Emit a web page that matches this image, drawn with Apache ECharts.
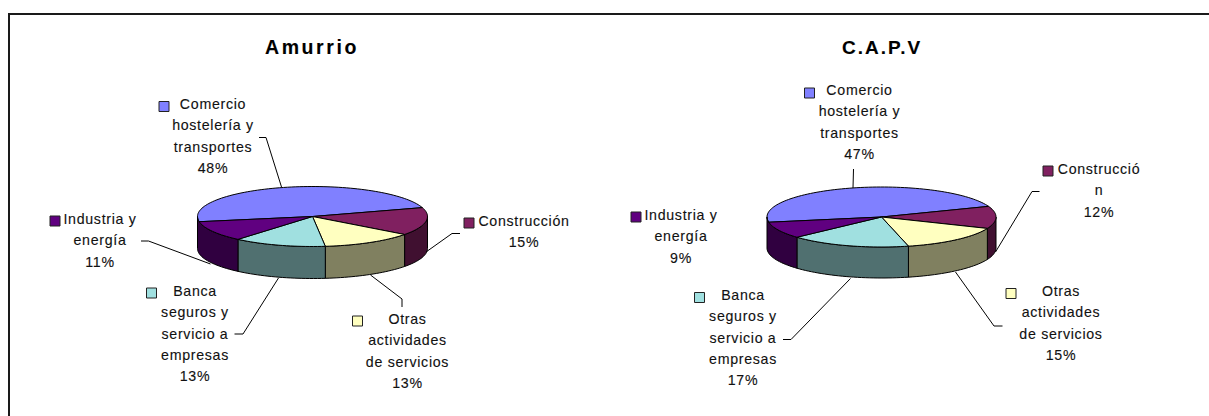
<!DOCTYPE html>
<html><head><meta charset="utf-8">
<style>
html,body{margin:0;padding:0;background:#fff}
#c{width:1209px;height:416px}
svg text{letter-spacing:.7px;stroke:#111;stroke-width:.12px}
svg text[style*="19.5px"]{letter-spacing:2.6px}
svg text[style*="19px"]{letter-spacing:2px}
</style>
<script src="https://cdn.jsdelivr.net/npm/echarts@6/dist/echarts.min.js"></script>
</head><body><div id="c"></div>
<script>
// Data
const titles = ['Amurrio', 'C.A.P.V'];
const categoryLinesAmurrio = [['Comercio','hostelería y','transportes'],['Construcción'],['Otras','actividades','de servicios'],['Banca','seguros y','servicio a','empresas'],['Industria y','energía']];
const categoryLinesCapv = [['Comercio','hostelería y','transportes'],['Construcció','n'],['Otras','actividades','de servicios'],['Banca','seguros y','servicio a','empresas'],['Industria y','energía']];
const valuesAmurrio = [48, 15, 13, 13, 11];
const valuesCapv = [47, 12, 15, 17, 9];
const topColors = ['#8080FF','#802060','#FFFFC0','#A0E0E0','#600080'];
const wallColors = ['#404080','#401030','#808060','#507070','#300040'];

// Layout
const pieA = {cx:312.5, cy:216.5, rx:115, ry:30, depth:32, start:260};
const pieB = {cx:881.5, cy:217, rx:114.5, ry:30, depth:31, start:260};
const labelPosA = [[213,104],[524,221],[407.5,319],[195,291],[100,219]];
const labelPosB = [[859.5,90],[1099,169],[1061,291],[743,295],[681,215]];
const markerPosA = [[164,106.5],[469,223],[357.5,321],[151.5,293],[55,221]];
const markerPosB = [[809.5,93],[1048,171],[1011,293.5],[699.5,297.5],[636,217]];
const leadersA = [[[259,137.5],[266,137.5],[281.5,187]],[[460,233.5],[452,233.5],[426,252]],[[402,307],[402,299],[370.5,275]],[[234.5,334],[243,334],[278.5,278]],[[141,241],[148.5,241],[210.5,264]]];
const leadersB = [[[853.5,169],[853,188]],[[1039.5,191.5],[1032,191.5],[995.5,252]],[[1002.5,326],[994,326],[955.5,272]],[[783,339.5],[791,339.5],[850.5,278.5]],[]];

const FONT = '"Liberation Sans", Arial, sans-serif';

function pt(p, deg, dy){
  const t = deg*Math.PI/180;
  return [p.cx + p.rx*Math.sin(t), p.cy - p.ry*Math.cos(t) + (dy||0)];
}
function arc(p, a, b, dy){
  const out=[], n=Math.max(2,Math.ceil(Math.abs(b-a)/2));
  for(let i=0;i<=n;i++) out.push(pt(p, a+(b-a)*i/n, dy));
  return out;
}
function makeSeries(pie, values, lines, labelPos, markerPos, leaders){
  const total = values.reduce((s,v)=>s+v,0);
  const starts=[]; let acc=pie.start;
  values.forEach(v=>{starts.push(acc); acc+=v/total*360;});
  return {
    type:'custom', coordinateSystem:'none', silent:true, animation:false, clip:false,
    data: values.map((v,i)=>[v,i]),
    renderItem(params, api){
      const i = api.value(1), v = api.value(0);
      const a = starts[i], b = a + v/total*360;
      const kids = [];
      // visible wall: the front half of the disc (90..270 degrees, modulo a turn)
      let wa = a, wb = b;
      if (a < 360 && b > 360) { wa = wb = 0; }
      else { wa = ((a-1)%360)+1; wb = wa + (b-a); }
      if (i === values.length-1) wb = 270;
      wa = Math.max(wa,90); wb = Math.min(wb,270);
      if (wb > wa) {
        kids.push({type:'polygon', shape:{points: arc(pie,wa,wb,0).concat(arc(pie,wb,wa,pie.depth))},
          style:{fill:wallColors[i], stroke:'#000', lineWidth:1, lineJoin:'round'}});
      }
      kids.push({type:'polygon', shape:{points: [[pie.cx,pie.cy]].concat(arc(pie,a,b,0))},
        style:{fill:topColors[i], stroke:'#000', lineWidth:1, lineJoin:'round'}});
      if (leaders[i].length) kids.push({type:'polyline', shape:{points:leaders[i]},
        style:{fill:'none', stroke:'#000', lineWidth:1}});
      const m = markerPos[i];
      kids.push({type:'rect', shape:{x:m[0]-5,y:m[1]-5,width:10,height:10},
        style:{fill:topColors[i], stroke:'#222', lineWidth:1}});
      const l = labelPos[i];
      kids.push({type:'text', x:l[0], y:l[1]-10.5,
        style:{text: lines[i].concat([v+'%']).join('\n'), fill:'#111', fontSize:14.2, fontFamily:FONT,
          align:'center', verticalAlign:'top', lineHeight:21.3}});
      return {type:'group', children:kids};
    }
  };
}
const chart = echarts.init(document.getElementById('c'), null, {renderer:'svg'});
chart.setOption({
  animation:false,
  backgroundColor:'#fff',
  title:[
    {text:titles[0], left:307, top:32, textAlign:'center', textStyle:{fontSize:19.5, fontWeight:'bold', color:'#000', fontFamily:FONT}},
    {text:titles[1], left:877, top:32.5, textAlign:'center', textStyle:{fontSize:19, fontWeight:'bold', color:'#000', fontFamily:FONT}}
  ],
  graphic:[
    {type:'rect', shape:{x:8,y:13,width:1201,height:2}, style:{fill:'#1a1a1a'}},
    {type:'rect', shape:{x:8,y:13,width:2,height:403}, style:{fill:'#1a1a1a'}}
  ],
  series:[
    makeSeries(pieA, valuesAmurrio, categoryLinesAmurrio, labelPosA, markerPosA, leadersA),
    makeSeries(pieB, valuesCapv, categoryLinesCapv, labelPosB, markerPosB, leadersB)
  ]
});
</script></body></html>
